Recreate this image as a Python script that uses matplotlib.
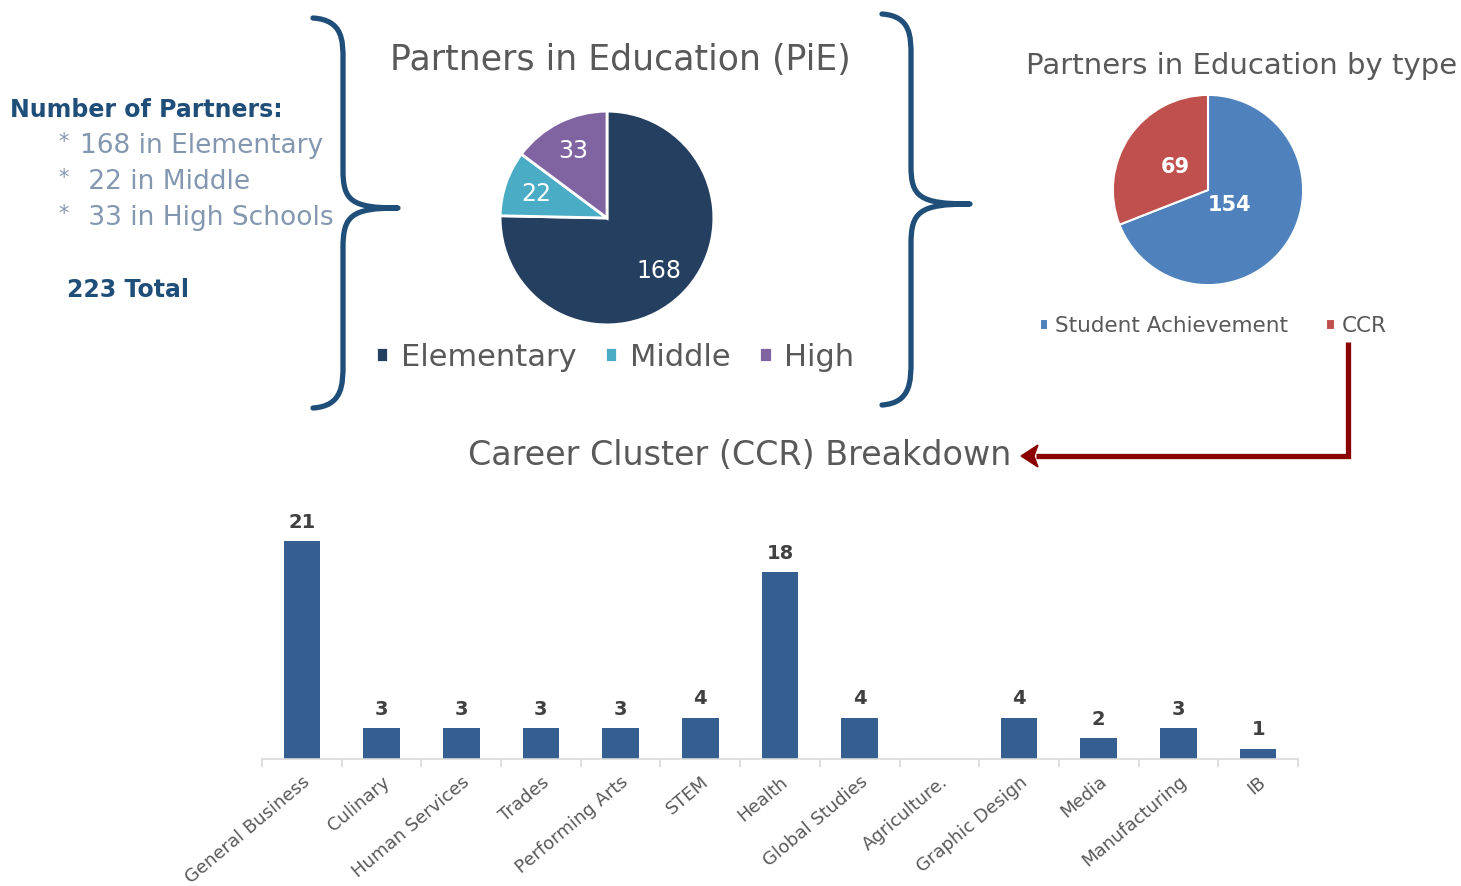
import matplotlib
matplotlib.use("Agg")
import matplotlib.pyplot as plt
import numpy as np
from matplotlib.path import Path
from matplotlib.patches import PathPatch, Polygon

plt.rcParams['font.family'] = ['DejaVu Sans']

# school level partners
level_names = ['Elementary', 'Middle', 'High']
level_counts = [168, 22, 33]
level_colors = ['#253f60', '#4bacc6', '#8064a2']

# partners by type
type_names = ['Student Achievement', 'CCR']
type_counts = [154, 69]
type_colors = ['#4f81bd', '#c0504d']

# career cluster breakdown of the CCR partners
clusters = ['General Business', 'Culinary', 'Human Services', 'Trades',
            'Performing Arts', 'STEM', 'Health', 'Global Studies',
            'Agriculture.', 'Graphic Design', 'Media', 'Manufacturing', 'IB']
cluster_counts = [21, 3, 3, 3, 3, 4, 18, 4, 0, 4, 2, 3, 1]

W, H = 1461, 886
GREY = '#595959'
NAVY = '#1f4e79'

fig = plt.figure(figsize=(W / 100, H / 100), dpi=100)

# full-figure layer in pixel units for the text, braces and arrow
bg = fig.add_axes([0, 0, 1, 1])
bg.set_xlim(0, W)
bg.set_ylim(H, 0)
bg.axis('off')


def px_box(x0, y0, x1, y1):
    return [x0 / W, 1 - y1 / H, (x1 - x0) / W, (y1 - y0) / H]


def brace(x0, y_top, y_bot, xs, xt, ym, color=NAVY):
    h1 = ym - y_top
    h2 = y_bot - ym
    verts = [
        (x0, y_top),
        (xs, y_top + 2), (xs, y_top + 0.12 * h1), (xs, y_top + 0.22 * h1),
        (xs, ym - 0.2 * h1),
        (xs, ym - 0.04 * h1), (xs + 8, ym), (xt, ym),
        (xs + 8, ym), (xs, ym + 0.04 * h2), (xs, ym + 0.2 * h2),
        (xs, y_bot - 0.22 * h2),
        (xs, y_bot - 0.12 * h2), (xs, y_bot - 2), (x0, y_bot),
    ]
    codes = [Path.MOVETO,
             Path.CURVE4, Path.CURVE4, Path.CURVE4,
             Path.LINETO,
             Path.CURVE4, Path.CURVE4, Path.CURVE4,
             Path.CURVE4, Path.CURVE4, Path.CURVE4,
             Path.LINETO,
             Path.CURVE4, Path.CURVE4, Path.CURVE4]
    bg.add_patch(PathPatch(Path(verts, codes), fill=False, edgecolor=color,
                           lw=3.8, capstyle='round', joinstyle='round'))


# left-hand summary
bg.text(10, 110, 'Number of Partners:', fontsize=17, fontweight='bold',
        color=NAVY, va='center')
bullets = [f'{level_counts[0]} in Elementary', f' {level_counts[1]} in Middle',
           f' {level_counts[2]} in High Schools']
for i, b in enumerate(bullets):
    y = 146 + 36 * i
    bg.text(58, y - 4, '*', fontsize=15, color='#8497b0', va='center')
    bg.text(80, y, b, fontsize=19, color='#8497b0', va='center')
bg.text(67, 290, f'{sum(level_counts)} Total', fontsize=17, fontweight='bold',
        color=NAVY, va='center')

brace(313, 18, 408, 343, 398, 208)
brace(882, 14, 405, 911, 970, 204)

# pie of partners by school level
ax1 = fig.add_axes(px_box(498, 109, 716, 327))
w1, _, t1 = ax1.pie(level_counts, colors=level_colors, startangle=90,
                    counterclock=False, pctdistance=0.7,
                    autopct=lambda p: f'{p * sum(level_counts) / 100:.0f}',
                    wedgeprops=dict(edgecolor='white', linewidth=2),
                    textprops=dict(color='white', fontsize=17))
ax1.set_xlim(-1.02, 1.02)
ax1.set_ylim(-1.02, 1.02)
bg.text(620, 60, 'Partners in Education (PiE)', fontsize=25, color=GREY,
        ha='center', va='center')
ax1.legend(w1, level_names, loc='center', bbox_to_anchor=(615, 357),
           bbox_transform=bg.transData, ncol=3, frameon=False, fontsize=22,
           handlelength=0.4, handleheight=0.4, handletextpad=0.4,
           columnspacing=0.95, labelcolor=GREY)

# pie of partners by type
ax2 = fig.add_axes(px_box(1111, 93, 1305, 287))
w2, _, t2 = ax2.pie(type_counts, colors=type_colors, startangle=90,
                    counterclock=False, pctdistance=0.28,
                    autopct=lambda p: f'{p * sum(type_counts) / 100:.0f}',
                    wedgeprops=dict(edgecolor='white', linewidth=1.5),
                    textprops=dict(color='white', fontsize=15,
                                   fontweight='bold'))
ax2.set_xlim(-1.02, 1.02)
ax2.set_ylim(-1.02, 1.02)
# push the smaller slice label further out
wd = w2[1]
mid = np.deg2rad((wd.theta1 + wd.theta2) / 2)
t2[1].set_position((0.42 * np.cos(mid), 0.42 * np.sin(mid)))
bg.text(1242, 66, 'Partners in Education by type', fontsize=21, color=GREY,
        ha='center', va='center')
ax2.legend(w2, type_names, loc='center', bbox_to_anchor=(1213, 326),
           bbox_transform=bg.transData, ncol=2, frameon=False, fontsize=15.5,
           handlelength=0.4, handleheight=0.4, handletextpad=0.3,
           columnspacing=1.8, labelcolor=GREY)

# arrow from the CCR slice to the breakdown
red = '#8b0000'
bg.plot([1348, 1348, 1036], [342, 456, 456], color=red, lw=3.8,
        solid_joinstyle='miter', solid_capstyle='butt')
bg.add_patch(Polygon([(1021, 456), (1038, 445), (1034, 456), (1038, 467)],
                     closed=True, color=red))
bg.text(740, 455, 'Career Cluster (CCR) Breakdown', fontsize=24, color=GREY,
        ha='center', va='center')

# career cluster bars
ax3 = fig.add_axes(px_box(262, 510, 1298, 759))
x = np.arange(len(clusters))
bars = ax3.bar(x, cluster_counts, width=0.46, color='#365f91')
for xi, v in zip(x, cluster_counts):
    if v > 0:
        ax3.text(xi, v + 0.9, str(v), ha='center', va='bottom',
                 fontsize=14, fontweight='bold', color='#404040')
ax3.set_xlim(-0.5, len(clusters) - 0.5)
ax3.set_ylim(0, 24)
for s in ['top', 'right', 'left']:
    ax3.spines[s].set_visible(False)
ax3.spines['bottom'].set_color('#d9d9d9')
ax3.spines['bottom'].set_linewidth(1.2)
ax3.set_yticks([])
ax3.set_xticks(x)
ax3.set_xticklabels(clusters, rotation=40, ha='right', va='top',
                    rotation_mode='anchor', fontsize=13, color=GREY)
ax3.tick_params(axis='x', which='major', length=0, pad=10)
ax3.set_xticks(np.arange(-0.5, len(clusters)), minor=True)
ax3.tick_params(axis='x', which='minor', length=6, color='#d9d9d9', width=1.2)

fig.savefig('out.png', dpi=100)
